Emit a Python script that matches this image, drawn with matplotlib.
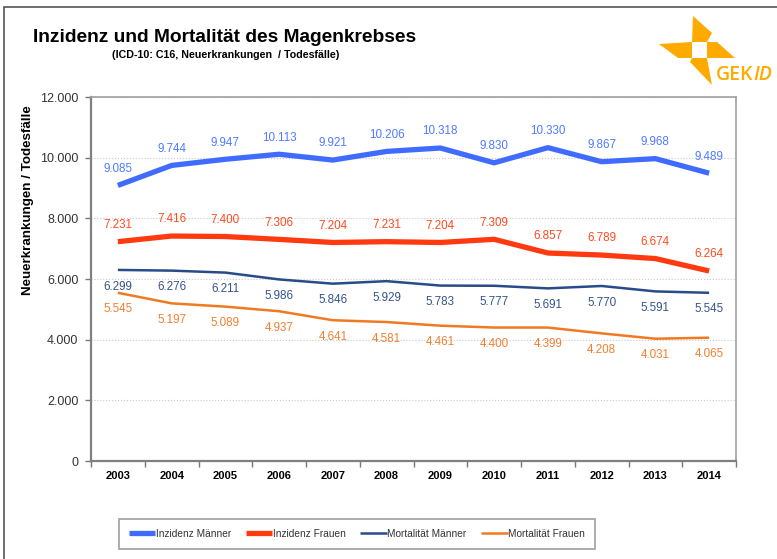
import matplotlib.pyplot as plt
from matplotlib.patches import Polygon, Rectangle
from matplotlib.ticker import FuncFormatter, FixedLocator, NullFormatter
import numpy as np

plt.rcParams['font.family'] = ['Liberation Sans', 'DejaVu Sans']

years = ['2003', '2004', '2005', '2006', '2007', '2008',
         '2009', '2010', '2011', '2012', '2013', '2014']
inz_maenner = [9085, 9744, 9947, 10113, 9921, 10206, 10318, 9830, 10330, 9867, 9968, 9489]
inz_frauen = [7231, 7416, 7400, 7306, 7204, 7231, 7204, 7309, 6857, 6789, 6674, 6264]
mort_maenner = [6299, 6276, 6211, 5986, 5846, 5929, 5783, 5777, 5691, 5770, 5591, 5545]
mort_frauen = [5545, 5197, 5089, 4937, 4641, 4581, 4461, 4400, 4399, 4208, 4031, 4065]

W, H = 777, 559
fig = plt.figure(figsize=(W / 100, H / 100), dpi=100)

# pixel -> figure coords helper
def px(x, y):
    return x / W, 1 - y / H

# outer frame
fig.patches.append(Rectangle(px(4, 600), 1.2, (600 - 7) / H, transform=fig.transFigure,
                             fill=False, edgecolor='#555555', linewidth=1.2))

l, b = px(91, 461)
r, t = px(736, 97)
ax = fig.add_axes([l, b, r - l, t - b])

x = np.arange(len(years))
series = [
    ('Inzidenz Männer', inz_maenner, '#3F6CFF', 3.8, 1),
    ('Inzidenz Frauen', inz_frauen, '#FF3A10', 3.8, 1),
    ('Mortalität Männer', mort_maenner, '#284C8A', 1.8, -1),
    ('Mortalität Frauen', mort_frauen, '#F07A22', 1.8, -1),
]
label_colors = {'Inzidenz Männer': '#4F7BFF', 'Inzidenz Frauen': '#FF4A1E',
                'Mortalität Männer': '#34548F', 'Mortalität Frauen': '#F08030'}

for name, vals, col, lw, side in series:
    ax.plot(x, vals, color=col, linewidth=lw, label=name, solid_capstyle='butt', zorder=3)
    for xi, v in zip(x, vals):
        txt = f'{v:,}'.replace(',', '.')
        ax.annotate(txt, (xi, v), xytext=(0, 12 * side), textcoords='offset points',
                    ha='center', va='center', fontsize=8.4, color=label_colors[name])

ax.set_xlim(-0.5, len(years) - 0.5)
ax.set_ylim(0, 12000)
ax.set_yticks(np.arange(0, 12001, 2000))
ax.yaxis.set_major_formatter(FuncFormatter(lambda v, p: f'{int(v):,}'.replace(',', '.')))
ax.grid(axis='y', linestyle=':', color='#C8C8C8', linewidth=0.8)
ax.set_axisbelow(True)

ax.set_xticks(x)
ax.set_xticklabels(years, fontweight='bold', fontsize=8)
ax.tick_params(axis='x', which='major', length=0, pad=7)
ax.xaxis.set_minor_locator(FixedLocator(np.arange(-0.5, len(years), 1.0)))
ax.xaxis.set_minor_formatter(NullFormatter())
ax.tick_params(axis='x', which='minor', length=4, width=1, color='#777777')
ax.tick_params(axis='y', length=4, width=1, color='#777777', labelsize=9,
               labelcolor='#333333', pad=5)

for side in ['left', 'bottom']:
    ax.spines[side].set_color('#808080')
    ax.spines[side].set_linewidth(1.6)
for side in ['top', 'right']:
    ax.spines[side].set_color('#A0A0A0')
    ax.spines[side].set_linewidth(1.2)

fig.text(*px(28, 200), 'Neuerkrankungen / Todesfälle', rotation=90, ha='center',
         va='center', fontsize=9.6, fontweight='bold')

fig.text(*px(33, 37), 'Inzidenz und Mortalität des Magenkrebses', ha='left',
         va='center', fontsize=13.8, fontweight='bold')
fig.text(*px(226, 55), '(ICD-10: C16, Neuerkrankungen  / Todesfälle)', ha='center',
         va='center', fontsize=7.7, fontweight='bold')

# GEKID logo
logo = '#FFAA00'
blades = [
    [(692, 42), (707, 42), (712, 33), (693, 16)],
    [(707, 42), (717, 42), (735, 58), (707, 58)],
    [(692, 58), (707, 58), (712, 85), (690, 62)],
    [(659, 44), (692, 42), (692, 58), (678, 58)],
]
for bl in blades:
    fig.patches.append(Polygon([px(*p) for p in bl], closed=True, transform=fig.transFigure,
                               facecolor=logo, edgecolor='none'))
fig.text(*px(716, 75), 'GEK', ha='left', va='center', fontsize=14, color=logo,
         family='Open Sans', fontweight='semibold')
fig.text(*px(753, 75), 'ID', ha='left', va='center', fontsize=14, color=logo,
         family='Open Sans', style='italic', fontweight='semibold')

leg = fig.legend(loc='center', bbox_to_anchor=(px(357, 534)), ncol=4, fontsize=7.3,
                 frameon=True, fancybox=False, edgecolor='#888888', handlelength=2.6,
                 handletextpad=0.05, columnspacing=1.45, borderpad=1.0)
leg.get_frame().set_linewidth(1.2)
for txt in leg.get_texts():
    txt.set_color('#333333')

fig.savefig('out.png', dpi=100)
